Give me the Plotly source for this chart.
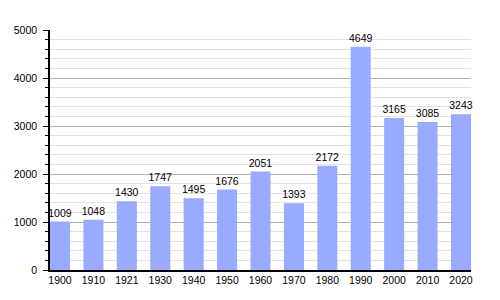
import plotly.graph_objects as go

years = ["1900", "1910", "1921", "1930", "1940", "1950", "1960", "1970", "1980", "1990", "2000", "2010", "2020"]
population = [1009, 1048, 1430, 1747, 1495, 1676, 2051, 1393, 2172, 4649, 3165, 3085, 3243]

fig = go.Figure(
    go.Bar(
        x=years,
        y=population,
        marker=dict(color="#99aaff", line=dict(width=0)),
        width=0.6,
        text=[str(v) for v in population],
        textposition="outside",
        constraintext="none",
        textfont=dict(color="black", size=10.5, family="Liberation Sans, Arial, sans-serif"),
        cliponaxis=False,
    )
)

fig.update_layout(
    width=500,
    height=300,
    margin=dict(l=50, r=29, t=30, b=30),
    paper_bgcolor="white",
    plot_bgcolor="white",
    showlegend=False,
    font=dict(family="Liberation Sans, Arial, sans-serif", size=10.5, color="black"),
    bargap=0.4,
)

fig.update_xaxes(
    type="category",
    range=[-0.3, 12.3],
    showline=True,
    linecolor="black",
    linewidth=1.5,
    ticks="",
    showgrid=False,
    tickfont=dict(size=10.5),
    ticklabelstandoff=0,
)

fig.update_yaxes(
    range=[0, 5000],
    dtick=1000,
    showline=True,
    linecolor="black",
    linewidth=1.5,
    ticks="outside",
    ticklen=5,
    tickcolor="black",
    showgrid=True,
    gridcolor="#b0b0b0",
    gridwidth=1,
    zeroline=False,
    tickfont=dict(size=10.5),
    ticklabelstandoff=4,
    minor=dict(
        dtick=200,
        ticks="outside",
        ticklen=3,
        tickcolor="black",
        showgrid=True,
        gridcolor="#e2e2e2",
        gridwidth=1,
    ),
)

fig.write_html("out.html")
